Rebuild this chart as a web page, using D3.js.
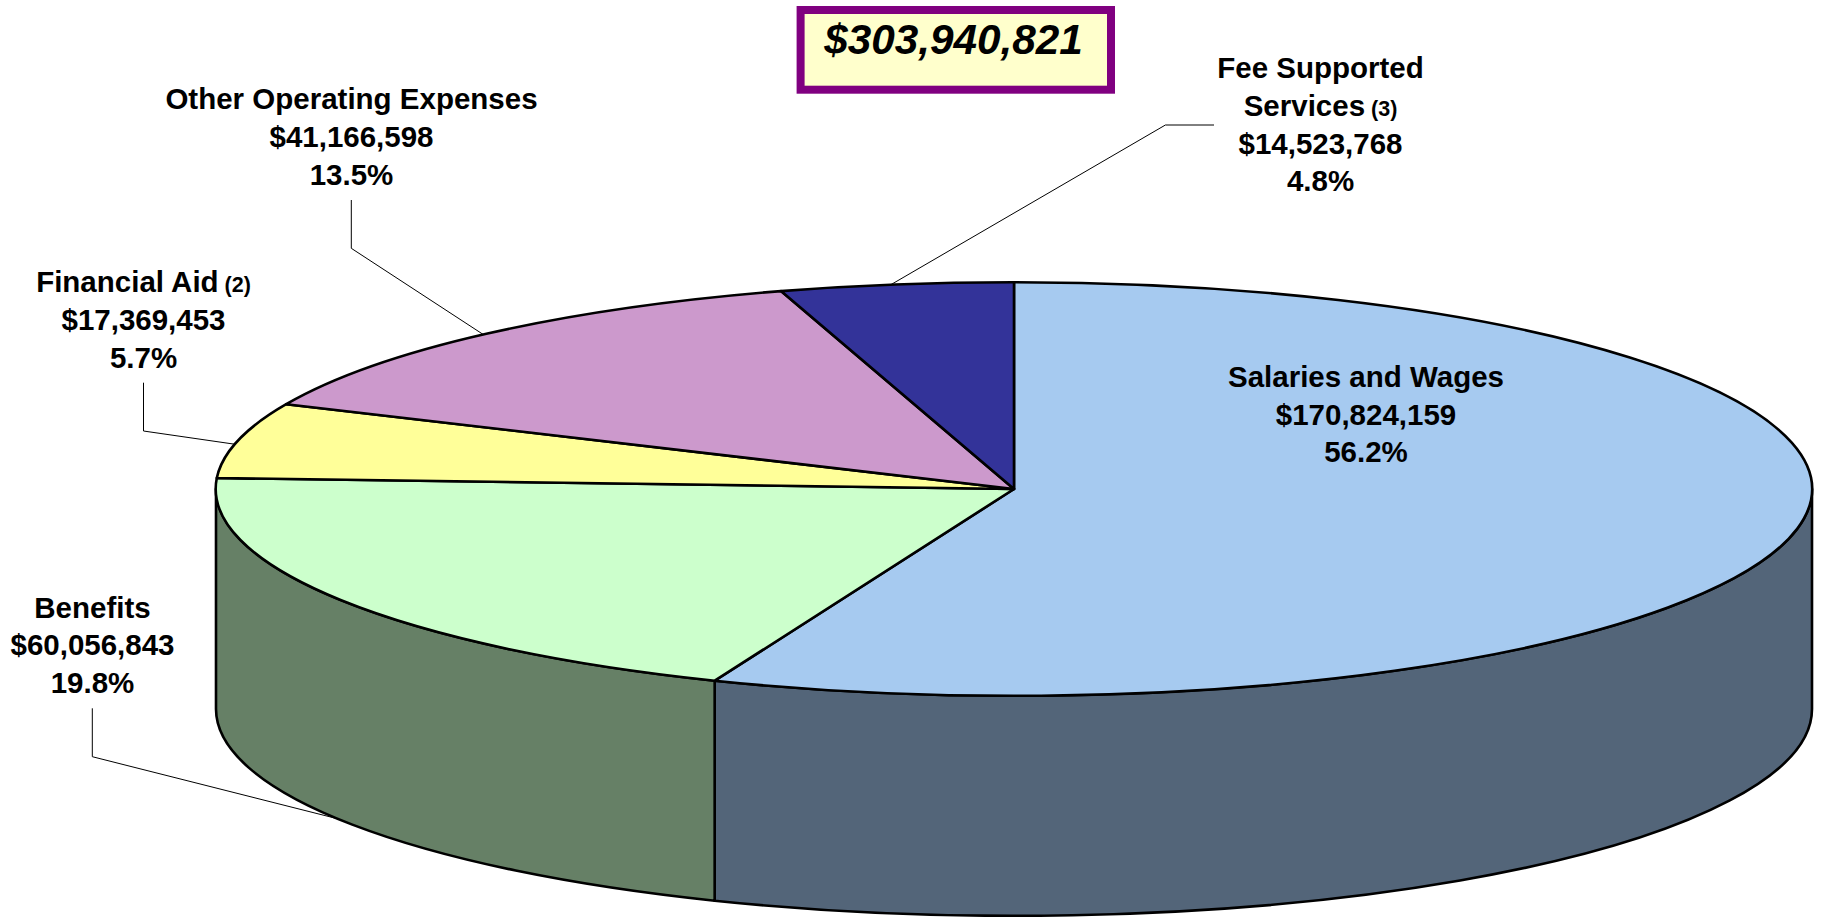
<!DOCTYPE html>
<html>
<head>
<meta charset="utf-8">
<script src="https://cdn.jsdelivr.net/npm/d3@7"></script>
<style>
  html, body { margin: 0; padding: 0; background: #fff; overflow: hidden; }
  text { font-family: "Liberation Sans", Arial, sans-serif; font-weight: bold; fill: #000; }
</style>
</head>
<body>
<div id="chart"></div>
<script>
// Data
const categories = ["Salaries and Wages", "Benefits", "Financial Aid", "Other Operating Expenses", "Fee Supported Services"]
const amounts = [170824159, 60056843, 17369453, 41166598, 14523768]
const notes = ["", "", "(2)", "", "(3)"]

// Colours
const topColors = ["#A6CAF0", "#CCFFCC", "#FFFF99", "#CC99CC", "#333399"]
const sideColors = ["#536579", "#668066", "#808066", "#664D66", "#1A1A4D"]

// Layout
const w = 1822, h = 917
const cx = 1014, cy = 489, rx = 798, ry = 206.8, depth = 220
const fontSize = 29.5, noteSize = 21.5, lineGap = 37.8
// the tilted 3D drawing sits a hair off the true angles, degrees per slice end
const edgeNudge = [-0.3, -0.45, 0.15, 0.25, 0]
// where each label sits: x centre, first baseline, how the name wraps, leader elbow
const labelLayout = [
  {x: 1366, y: 386.7, lines: ["Salaries and Wages"]},
  {x: 92.5, y: 617.5, lines: ["Benefits"], elbow: [[92.3, 708.3], [92.3, 756.7]], onBase: true, tip: 0.4},
  {x: 143.5, y: 292, lines: ["Financial Aid"], elbow: [[143.5, 382.7], [143.5, 431]], tip: -1.1},
  {x: 351.5, y: 109.3, lines: ["Other Operating Expenses"], elbow: [[351.3, 200], [351.3, 248.3]], tip: -0.3},
  {x: 1320.5, y: 78, lines: ["Fee Supported", "Services"], elbow: [[1214, 125], [1165.4, 125]], tip: -0.4}
]

const total = d3.sum(amounts)
const fmtMoney = d3.format("$,")
const fmtPct = d3.format(".1%")
const topColor = d3.scaleOrdinal().domain(categories).range(topColors)
const sideColor = d3.scaleOrdinal().domain(categories).range(sideColors)
const rad = deg => deg * Math.PI / 180

const svg = d3.select("#chart").append("svg")
  .attr("width", w)
  .attr("height", h)
  .style("display", "block")

const pieData = d3.pie().sort(null).value((d, i) => amounts[i])(categories)
pieData.forEach((d, i) => {
  d.startAngle += i > 0 ? rad(edgeNudge[i - 1]) : 0
  d.endAngle += rad(edgeNudge[i])
})

// Point on the tilted disc for a pie angle (0 = top, clockwise)
const project = (a, dy = 0) => [cx + rx * Math.sin(a), cy - ry * Math.cos(a) + dy]

// Rim pieces, only the part of the circle facing the viewer
function sidePath(a0, a1) {
  const p0 = project(a0), p1 = project(a1)
  const q0 = project(a0, depth), q1 = project(a1, depth)
  return `M${p0}A${rx},${ry} 0 0 1 ${p1}L${q1}A${rx},${ry} 0 0 0 ${q0}Z`
}
const front = pieData
  .map(d => ({key: d.data, a0: Math.max(d.startAngle, Math.PI / 2), a1: Math.min(d.endAngle, Math.PI * 1.5)}))
  .filter(d => d.a1 > d.a0)

svg.append("g").selectAll("path").data(front).join("path")
  .attr("d", d => sidePath(d.a0, d.a1))
  .attr("fill", d => sideColor(d.key))
  .attr("stroke", "#000")
  .attr("stroke-width", 2.6)
  .attr("stroke-linejoin", "round")

// Top of the pie, unit radius arcs squashed into the ellipse
const arcGen = d3.arc().innerRadius(0).outerRadius(1)
svg.append("g")
  .attr("transform", `translate(${cx},${cy}) scale(${rx},${ry})`)
  .selectAll("path").data(pieData).join("path")
  .attr("d", arcGen)
  .attr("fill", d => topColor(d.data))
  .attr("stroke", "#000")
  .attr("stroke-width", 2.6)
  .attr("stroke-linejoin", "round")
  .attr("vector-effect", "non-scaling-stroke")

// Leader lines
const leaderGen = d3.line()
svg.append("g").selectAll("path")
  .data(pieData.filter((d, i) => labelLayout[i].elbow))
  .join("path")
  .attr("d", d => {
    const lay = labelLayout[d.index]
    const mid = (d.startAngle + d.endAngle) / 2 + rad(lay.tip)
    return leaderGen([...lay.elbow, project(mid, lay.onBase ? depth : 0)])
  })
  .attr("fill", "none")
  .attr("stroke", "#000")
  .attr("stroke-width", 1)

// Labels
const labels = svg.append("g").selectAll("text").data(pieData).join("text")
  .attr("text-anchor", "middle")
  .attr("font-size", fontSize)
labels.each(function(d, i) {
  const lay = labelLayout[i]
  const t = d3.select(this)
  const rows = [...lay.lines, fmtMoney(amounts[i]), fmtPct(amounts[i] / total)]
  rows.forEach((row, r) => {
    t.append("tspan").attr("x", lay.x).attr("y", lay.y + r * lineGap).text(row)
    if (r === lay.lines.length - 1 && notes[i]) {
      t.append("tspan").attr("font-size", noteSize).text(" " + notes[i])
    }
  })
})

// Total box
svg.append("rect")
  .attr("x", 800.6).attr("y", 10)
  .attr("width", 310.4).attr("height", 79.7)
  .attr("fill", "#FFFFCC")
  .attr("stroke", "#800080")
  .attr("stroke-width", 8)
svg.append("text")
  .attr("x", 953.5).attr("y", 54.3)
  .attr("text-anchor", "middle")
  .attr("font-size", 42.3)
  .attr("font-style", "italic")
  .text(fmtMoney(total))
</script>
</body>
</html>
